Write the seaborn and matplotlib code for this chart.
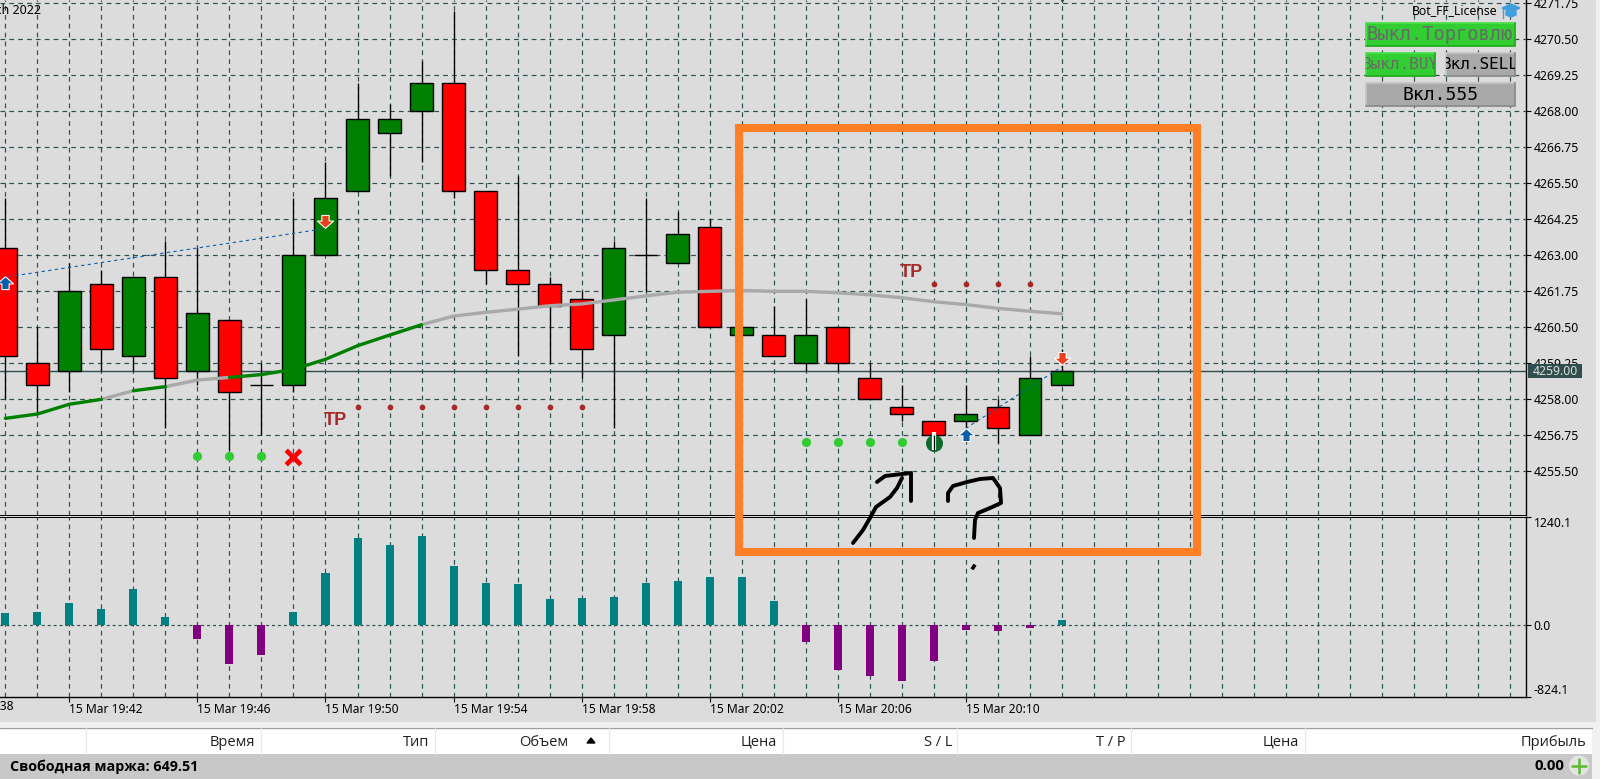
import seaborn as sns
import matplotlib.pyplot as plt
from matplotlib.patches import Rectangle, Circle, Polygon
from matplotlib.path import Path

# candles, one per minute
opens = [4263.25, 4259.25, 4259.0, 4262.0, 4259.5, 4262.25, 4259.0, 4260.75, 4258.5, 4258.5, 4263.0, 4265.25,
         4267.25, 4268.0, 4269.0, 4265.25, 4262.5, 4262.0, 4261.5, 4260.25, 4263.0, 4262.75, 4264.0, 4260.25,
         4260.25, 4259.25, 4260.5, 4258.75, 4257.75, 4257.25, 4257.25, 4257.75, 4256.75, 4258.5]
closes = [4259.5, 4258.5, 4261.75, 4259.75, 4262.25, 4258.75, 4261.0, 4258.25, 4258.5, 4263.0, 4265.0, 4267.75,
          4267.75, 4269.0, 4265.25, 4262.5, 4262.0, 4261.25, 4259.75, 4263.25, 4263.0, 4263.75, 4260.5, 4260.5,
          4259.5, 4260.25, 4259.25, 4258.0, 4257.5, 4256.75, 4257.5, 4257.0, 4258.75, 4259.0]
highs = [4265.0, 4260.5, 4262.75, 4262.5, 4262.25, 4263.5, 4263.25, 4260.75, 4259.25, 4265.0, 4266.25, 4269.0,
         4268.25, 4269.75, 4271.5, 4265.25, 4265.75, 4262.25, 4261.75, 4263.5, 4265.0, 4264.5, 4264.25, 4260.5,
         4261.25, 4261.5, 4260.5, 4259.25, 4258.5, 4257.25, 4258.5, 4258.0, 4259.5, 4259.75]
lows = [4258.0, 4257.5, 4258.25, 4259.0, 4259.0, 4257.0, 4258.5, 4256.25, 4256.75, 4258.25, 4263.0, 4265.25,
        4265.75, 4266.25, 4265.0, 4262.0, 4259.5, 4259.25, 4258.75, 4257.0, 4261.75, 4262.75, 4260.5, 4260.25,
        4259.5, 4259.0, 4259.0, 4258.0, 4257.25, 4256.25, 4256.75, 4256.5, 4256.75, 4258.5]

# moving average and the bar ranges where it is green
ma_values = [4257.34, 4257.49, 4257.83, 4258.0, 4258.3, 4258.44, 4258.67, 4258.76, 4258.86, 4259.04, 4259.39,
             4259.86, 4260.23, 4260.59, 4260.89, 4261.02, 4261.13, 4261.25, 4261.31, 4261.45, 4261.59, 4261.72,
             4261.75, 4261.78, 4261.75, 4261.75, 4261.70, 4261.63, 4261.53, 4261.39, 4261.29, 4261.16, 4261.06,
             4260.97]
ma_green = [(0, 3), (4, 5), (7, 13)]
ma_gray = [(3, 4), (5, 7), (13, 33)]

# lower window histogram
hist_values = [142, 153, 256, 188, 417, 96, -157, -444, -341, 153, 601, 1003, 922, 1026, 681, 486, 475, 302, 314,
               325, 486, 509, 555, 555, 279, -188, -513, -582, -639, -410, -54, -65, -31, 61]

# signals
tp_bars = [[11, 12, 13, 14, 15, 16, 17, 18], [29, 30, 31, 32]]
tp_prices = [4257.72, 4262.0]
tp_labels_pos = [(10.3, 4257.27), (28.3, 4262.42)]
dot_bars = [[6, 7, 8], [25, 26, 27, 28]]
dot_prices = [4256.03, 4256.52]
up_arrows = [(0, 4262.03), (30, 4256.76)]
down_arrows = [(10, 4264.2), (33, 4259.42)]
trend_lines = [((0.1, 10), (4262.26, 4263.93)), ((30, 33), (4256.99, 4259.13))]
stop_x = (9, 4256.0)
entry_mark = (29, 4256.5)

price_ticks = [4271.75, 4270.50, 4269.25, 4268.00, 4266.75, 4265.50, 4264.25, 4263.00, 4261.75, 4260.50, 4259.25,
               4258.00, 4256.75, 4255.50]
bid_price = 4259.00
osc_ticks = [-824.1, 0.0, 1240.1]
time_bars = [2, 6, 10, 14, 18, 22, 26, 30]
time_labels = ['15 Mar 19:42', '15 Mar 19:46', '15 Mar 19:50', '15 Mar 19:54', '15 Mar 19:58', '15 Mar 20:02',
               '15 Mar 20:06', '15 Mar 20:10']

# terminal table under the chart
table_cols = [85.7, 260.7, 434.7, 608.7, 782.7, 956.6, 1130.6, 1304.6]
table_heads = [('Время', 255.6), ('Тип', 429.6), ('Объем', 568), ('Цена', 777.5), ('S / L', 952), ('T / P', 1126),
               ('Цена', 1299.5), ('Прибыль', 1586)]

# hand drawn marks on the screenshot, in pixels
scribble_shaft = [(853, 543), (863, 530), (870, 518), (876, 507), (890, 497), (897, 488), (902, 478)]
scribble_head = [(877, 482), (885, 476), (902, 474), (911, 473), (911, 501)]
scribble_q = [(948, 501), (948, 493), (953, 486), (967, 482), (980, 479), (993, 478), (1000, 488), (1001, 503),
              (990, 508), (978, 513), (975, 520), (974, 538)]
scribble_dot = [(972, 566), (975, 568)]

BG = '#dcdcdc'
GRID = '#2f4f4f'

sns.set_theme(style='dark', rc={'figure.facecolor': BG, 'axes.facecolor': BG, 'axes.edgecolor': 'black',
                                'axes.linewidth': 1.0, 'xtick.color': 'black', 'ytick.color': 'black',
                                'text.color': 'black', 'xtick.bottom': True, 'ytick.right': True})
plt.rcParams['font.family'] = ['Noto Sans', 'DejaVu Sans']

fig = plt.figure(figsize=(16, 7.79), dpi=100)
W, H = 1600.0, 779.0
MAIN_BOTTOM = 515.0
SUB_TOP = 517.0
SUB_BOTTOM = 697.3
ax = fig.add_axes([0, 1 - MAIN_BOTTOM / H, 1526 / W, MAIN_BOTTOM / H])
ax2 = fig.add_axes([0, 1 - SUB_BOTTOM / H, 1526 / W, (SUB_BOTTOM - SUB_TOP) / H])
over = fig.add_axes([0, 0, 1, 1], zorder=10)
over.set_xlim(0, W)
over.set_ylim(H, 0)
over.axis('off')
over.patch.set_alpha(0)

bars = list(range(len(opens)))
xlim = (-5.4 / 32.01, (1526 - 5.4) / 32.01)
dash = (0, (4, 3.5))

# ---- price window
ax.set_axisbelow(True)
ax.vlines(bars, lows, highs, color='black', lw=0.95, zorder=2)
body_colors = ['#008000' if c >= o else '#ff0000' for o, c in zip(opens, closes)]
ax.bar(bars, [c - o for o, c in zip(opens, closes)], bottom=opens, width=0.7, color=body_colors,
       edgecolor='black', linewidth=1.0, zorder=3)

for a, b in ma_gray:
    sns.lineplot(x=bars[a:b + 1], y=ma_values[a:b + 1], color='#a9a9a9', lw=2.4, ax=ax, zorder=4, errorbar=None)
for a, b in ma_green:
    sns.lineplot(x=bars[a:b + 1], y=ma_values[a:b + 1], color='#008000', lw=2.4, ax=ax, zorder=4, errorbar=None)

for xs, ys in trend_lines:
    ax.plot(xs, ys, color='#0a5fa8', lw=0.8, ls=(0, (3, 3)), zorder=5)

for group, price in zip(tp_bars, tp_prices):
    sns.scatterplot(x=group, y=[price] * len(group), color='#a52a2a', s=17, linewidth=0, ax=ax, zorder=5)
for lx, ly in tp_labels_pos:
    ax.text(lx, ly, 'TP', color='#a52a2a', fontsize=13, fontweight='bold', ha='center', va='center',
            family=['Liberation Sans'], zorder=5)
for group, price in zip(dot_bars, dot_prices):
    sns.scatterplot(x=group, y=[price] * len(group), color='#32cd32', s=44, linewidth=0, ax=ax, zorder=5)

arrow_up = Path([(0, 0.85), (1, -0.05), (0.45, -0.05), (0.45, -0.75), (-0.45, -0.75), (-0.45, -0.05), (-1, -0.05),
                 (0, 0.85)], closed=True)
arrow_down = Path([(0, -0.85), (1, 0.05), (0.45, 0.05), (0.45, 0.75), (-0.45, 0.75), (-0.45, 0.05), (-1, 0.05),
                   (0, -0.85)], closed=True)
sns.scatterplot(x=[p[0] for p in up_arrows], y=[p[1] for p in up_arrows], marker=arrow_up, s=135, color='#0a5fa8',
                edgecolor='white', linewidth=0.8, ax=ax, zorder=6)
sns.scatterplot(x=[p[0] for p in down_arrows], y=[p[1] for p in down_arrows], marker=arrow_down, s=135,
                color='#e8401c', edgecolor='white', linewidth=0.8, ax=ax, zorder=6)
ax.scatter([stop_x[0]], [stop_x[1]], marker='x', s=110, color='#ff0000', linewidth=3.4, zorder=6)

# entry icon, the wick stays visible through it
sns.scatterplot(x=[entry_mark[0]], y=[entry_mark[1]], color='#0d6b2a', s=150, linewidth=0, ax=ax, zorder=6)
ax.vlines(entry_mark[0], lows[entry_mark[0]], 4256.85, color='white', lw=3, zorder=7)
ax.vlines(entry_mark[0], lows[entry_mark[0]], closes[entry_mark[0]], color='black', lw=0.95, zorder=8)

ax.scatter([len(bars) - 1], [4271.86], marker='v', s=18, color=GRID, linewidth=0, zorder=6)

ax.axhline(bid_price, color=GRID, lw=1.0, zorder=1.5)
ax.set_xlim(*xlim)
ax.set_ylim(4270.5 - (MAIN_BOTTOM * 3 - 118) / 86.4, 4270.5 + 118 / 86.4)
ax.set_xticks(range(0, 48))
ax.set_yticks(price_ticks)
ax.set_yticklabels([f'{p:.2f}' for p in price_ticks], fontsize=8.8)
ax.yaxis.tick_right()
ax.tick_params(axis='x', length=0, labelbottom=False)
ax.tick_params(axis='y', length=3.6, width=0.8, pad=2)
ax.grid(True, color=GRID, lw=0.85, ls=dash)
for side in ['left', 'top']:
    ax.spines[side].set_visible(False)
ax.spines['bottom'].set_linewidth(0.72)
ax.set_xlabel('')
ax.set_ylabel('')

# ---- histogram window
signs = ['up' if v >= 0 else 'down' for v in hist_values]
ax2.set_axisbelow(True)
sns.barplot(x=bars, y=hist_values, hue=signs, palette={'up': '#008080', 'down': '#800080'}, native_scale=True,
            dodge=False, width=0.25, legend=False, saturation=1, linewidth=0, ax=ax2, zorder=3)
ax2.axhline(0, color=GRID, lw=0.85, ls=(0, (2.5, 2.5)), zorder=1)
ax2.set_xlim(*xlim)
ax2.set_ylim(osc_ticks[0], osc_ticks[-1])
ax2.set_xticks(range(0, 48), minor=True)
ax2.set_xticks(time_bars)
ax2.set_xticklabels(time_labels, fontsize=8.7, ha='left')
ax2.set_yticks(osc_ticks)
ax2.set_yticklabels(['-824.1', '0.0', '1240.1'], fontsize=8.8)
ax2.yaxis.tick_right()
ax2.tick_params(axis='x', which='major', length=3.6, width=0.8, pad=0.8)
ax2.tick_params(axis='x', which='minor', length=0)
ax2.tick_params(axis='y', length=3.6, width=0.8, pad=2)
ax2.get_yticklabels()[0].set_va('bottom')
ax2.get_yticklabels()[2].set_va('top')
ax2.grid(True, axis='x', which='both', color=GRID, lw=0.85, ls=dash)
ax2.spines['left'].set_visible(False)
ax2.spines['top'].set_linewidth(0.72)
ax2.set_xlabel('')
ax2.set_ylabel('')
over.text(13.5, 707, '15 Mar 19:38', fontsize=8.7, ha='right', va='center')

# ---- chart corner text and buttons
over.text(40.5, 10.5, 'March 2022', fontsize=9, ha='right', va='center')
over.text(1497.5, 10.5, 'Bot_FF_License', fontsize=8.8, ha='right', va='center')
over.add_patch(Polygon([(1502, 8), (1511, 4), (1520, 8), (1511, 12)], color='#3f9fdc'))
over.add_patch(Polygon([(1506, 11), (1511, 13), (1516, 11), (1516, 15), (1511, 17), (1506, 15)], color='#3f9fdc'))
over.plot([1503, 1503], [9, 18], color='#3f9fdc', lw=1)


def button(x0, y0, x1, y1, fill, light, dark, label, color, size):
    box = Rectangle((x0, y0), x1 - x0, y1 - y0, color=fill, lw=0)
    over.add_patch(box)
    over.plot([x0, x0, x1], [y1, y0, y0], color=light, lw=1.3, solid_joinstyle='miter')
    over.plot([x0, x1, x1], [y1, y1, y0], color=dark, lw=1.3, solid_joinstyle='miter')
    t = over.text((x0 + x1) / 2, (y0 + y1) / 2, label, color=color, fontsize=size, ha='center', va='center',
                  family=['DejaVu Sans Mono'], clip_on=True)
    t.set_clip_path(box)


button(1365.5, 22.5, 1514.7, 45.5, '#32cd32', '#4be04b', '#1fae1f', 'Выкл.Торговлю', '#696969', 13.5)
button(1365.5, 52.5, 1435, 75.5, '#32cd32', '#4be04b', '#1fae1f', 'Выкл.BUY', '#696969', 11.5)
button(1446, 52.5, 1514.7, 75.5, '#a9a9a9', '#c4c4c4', '#8c8c8c', 'Вкл.SELL', 'black', 11.5)
button(1365.5, 83, 1514.7, 106, '#a9a9a9', '#c4c4c4', '#8c8c8c', 'Вкл.555', 'black', 13)

# bid label sits over the price scale
over.add_patch(Rectangle((1528, 364), 54, 14, color=GRID, lw=0))
over.text(1555, 371.3, f'{bid_price:.2f}', color=BG, fontsize=8.8, ha='center', va='center')

# ---- terminal table
over.add_patch(Rectangle((1596, 0), 4, H, color='#f0f0f0', lw=0))
over.add_patch(Rectangle((0, 721.5), W, 5.5, color='#f0f0f0', lw=0))
over.add_patch(Rectangle((1592, 721.5), 8, H, color='#f0f0f0', lw=0))
over.add_patch(Rectangle((0, 727), 1592, 27, color='white', lw=0))
over.plot([0, 1592], [727.5, 727.5], color='#a0a0a0', lw=1)
over.add_patch(Rectangle((0, 754), 1592, 25, color='#c8c8c8', lw=0))
for cx in table_cols:
    over.plot([cx, cx], [728, 754], color='#e8e8e8', lw=0.8)
for name, right in table_heads:
    over.text(right, 742, name, fontsize=10.5, ha='right', va='center', family=['Open Sans'], color='#202020')
over.add_patch(Polygon([(587, 743), (591, 738), (595, 743)], color='black'))
over.text(10, 766.5, 'Свободная маржа: 649.51', fontsize=10.3, fontweight='bold', ha='left', va='center',
          family=['Open Sans'])
over.text(1564, 766.5, '0.00', fontsize=10.8, fontweight='bold', ha='right', va='center', family=['Open Sans'])
over.add_patch(Circle((1579, 765.5), 10, color='#e4e4e4', lw=0))
over.plot([1572, 1586], [765.5, 765.5], color='#5cb82e', lw=1.8)
over.plot([1579, 1579], [758.5, 772.5], color='#5cb82e', lw=1.8)

# ---- hand drawn frame and scribbles
over.add_patch(Rectangle((739, 128), 1197 - 739, 552 - 128, fill=False, edgecolor='#ff7f27', lw=5.8,
                         joinstyle='miter'))
for stroke in [scribble_shaft, scribble_head, scribble_q]:
    over.plot([p[0] for p in stroke], [p[1] for p in stroke], color='black', lw=2.8, solid_capstyle='round',
              solid_joinstyle='round')
over.plot([p[0] for p in scribble_dot], [p[1] for p in scribble_dot], color='black', lw=4, solid_capstyle='butt')

fig.savefig('out.png', dpi=100, facecolor=BG)
